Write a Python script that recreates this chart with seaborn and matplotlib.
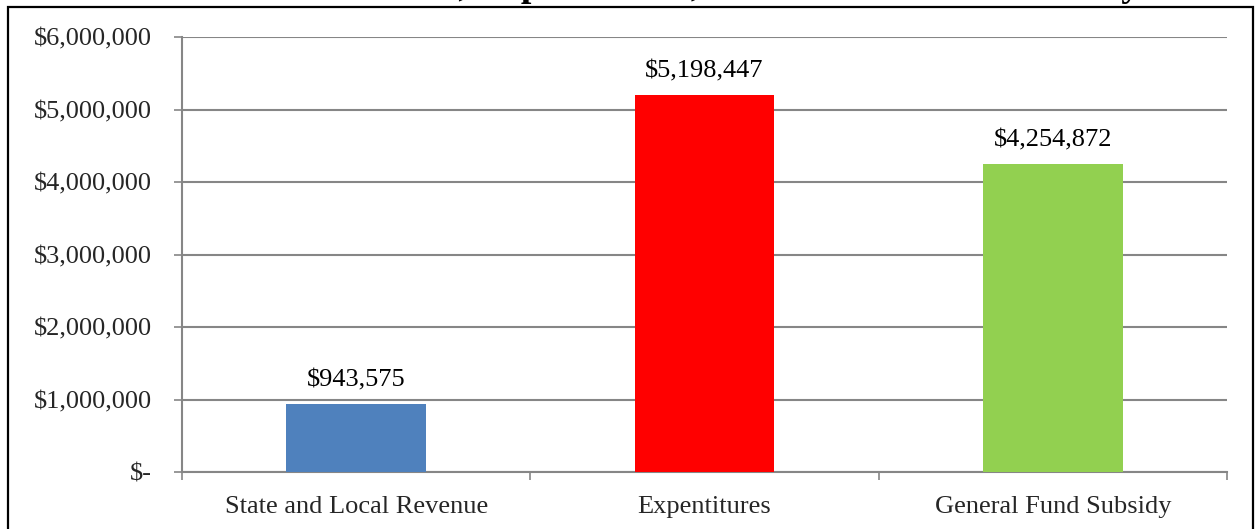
import matplotlib
matplotlib.use("Agg")
import matplotlib.pyplot as plt
import matplotlib.patches as mpatches
from matplotlib.ticker import FixedLocator, FuncFormatter
import seaborn as sns
import pandas as pd

categories = ["State and Local Revenue", "Expentitures", "General Fund Subsidy"]
values = [943575, 5198447, 4254872]
colors = ["#4F81BD", "#FF0000", "#92D050"]
yticks = [0, 1000000, 2000000, 3000000, 4000000, 5000000, 6000000]
title = "Revenue, Expenditures, and General Fund Subsidy"

sns.set_style("white")
plt.rcParams["font.family"] = ["Liberation Serif", "DejaVu Serif"]

W, H = 1256, 529
fig = plt.figure(figsize=(W / 100, H / 100), dpi=100)
ax = fig.add_axes([182 / W, 1 - 472 / H, (1227 - 182) / W, (472 - 37) / H])

df = pd.DataFrame({"cat": categories, "val": values})
sns.barplot(data=df, x="cat", y="val", hue="cat", palette=colors,
            width=0.4, saturation=1, legend=False, ax=ax, zorder=3, linewidth=0)

grid = "#868686"
ax.set_xlim(-0.5, 2.5)
ax.set_ylim(0, 6000000)
ax.yaxis.set_major_locator(FixedLocator(yticks))
ax.yaxis.set_major_formatter(FuncFormatter(lambda v, p: "$-" if v == 0 else f"${v:,.0f}"))
ax.grid(axis="y", color=grid, linewidth=1.5, zorder=0)
ax.set_axisbelow(True)

# category boundaries as major ticks, labels at centres as minor ticks
ax.xaxis.set_major_locator(FixedLocator([-0.5, 0.5, 1.5, 2.5]))
ax.xaxis.set_major_formatter(FuncFormatter(lambda v, p: ""))
ax.xaxis.set_minor_locator(FixedLocator([0, 1, 2]))
ax.xaxis.set_minor_formatter(FuncFormatter(lambda v, p: categories[int(round(v))]))
ax.tick_params(axis="x", which="major", direction="out", length=5.5, width=1.2,
               color=grid, bottom=True)
ax.tick_params(axis="x", which="minor", length=0, pad=17, labelsize=19)
ax.tick_params(axis="y", direction="out", length=5.8, width=1.2, color=grid,
               left=True, pad=16, labelsize=19)
ax.set_xlabel("")
ax.set_ylabel("")

for s in ["top", "right"]:
    ax.spines[s].set_visible(False)
ax.spines["left"].set_color(grid)
ax.spines["left"].set_linewidth(1.5)
ax.spines["bottom"].set_color(grid)
ax.spines["bottom"].set_linewidth(1.5)

for i, v in enumerate(values):
    ax.annotate(f"${v:,.0f}", (i, v), xytext=(0, 9), textcoords="offset points",
                ha="center", va="bottom", fontsize=19, color="black")

# outer chart frame
fig.patches.append(mpatches.Rectangle((8 / W, -0.2), (1253 - 8) / W, 1.2 - 7 / H,
                                      transform=fig.transFigure, fill=False,
                                      edgecolor="black", linewidth=1.6))

# title mostly cut off above the image (as in the reference)
fig.text(1140 / W, 1 + 4 / H, title, ha="right", va="baseline",
         fontsize=27, fontweight="bold", color="black")

fig.savefig("out.png", dpi=100)
